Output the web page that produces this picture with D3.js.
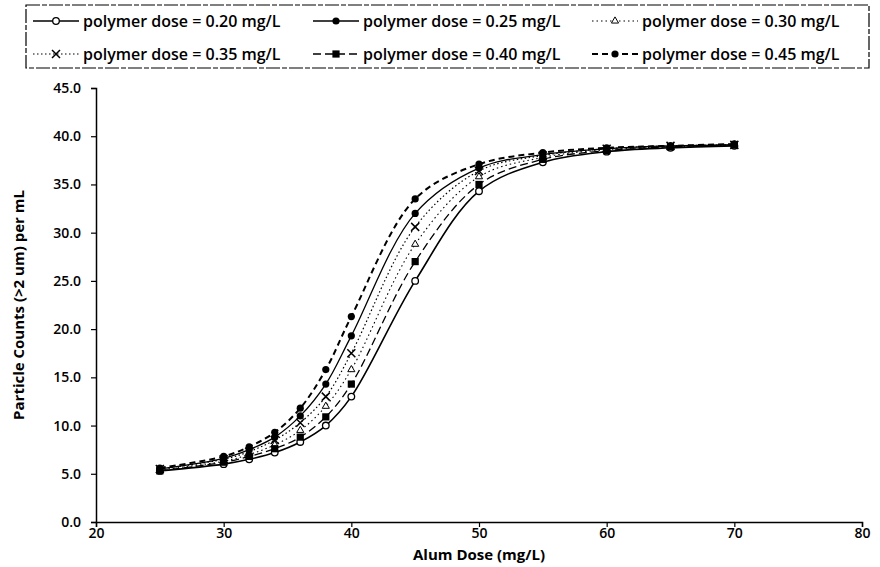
<!DOCTYPE html>
<html>
<head>
<meta charset="utf-8">
<script src="https://cdn.jsdelivr.net/npm/d3@7"></script>
<style>
  body { margin: 0; background: #fff; }
  text { font-family: "Open Sans", sans-serif; font-weight: 600; fill: #000; }
</style>
</head>
<body>
<script>
// alum dose (mg/L) where counts were measured
var alumDose = [25, 30, 32, 34, 36, 38, 40, 45, 50, 55, 60, 65, 70];

// particle counts (>2 um) per mL, one list per polymer dose
var dose020 = [5.3, 6.0, 6.5, 7.2, 8.3, 10.0, 13.0, 25.0, 34.3, 37.3, 38.4, 38.8, 39.0];
var dose025 = [5.5, 6.6, 7.5, 8.8, 11.0, 14.3, 19.3, 32.0, 36.7, 38.1, 38.7, 39.0, 39.1];
var dose030 = [5.4, 6.3, 7.0, 8.0, 9.5, 12.0, 15.8, 28.8, 35.8, 37.8, 38.6, 38.9, 39.1];
var dose035 = [5.5, 6.5, 7.3, 8.5, 10.3, 13.0, 17.5, 30.6, 36.4, 38.0, 38.7, 39.0, 39.1];
var dose040 = [5.3, 6.2, 6.8, 7.6, 8.8, 10.9, 14.3, 27.0, 35.0, 37.6, 38.5, 38.9, 39.1];
var dose045 = [5.6, 6.8, 7.8, 9.3, 11.8, 15.8, 21.3, 33.5, 37.1, 38.3, 38.8, 39.0, 39.2];

var seriesNames = ["polymer dose = 0.20 mg/L", "polymer dose = 0.25 mg/L", "polymer dose = 0.30 mg/L",
                   "polymer dose = 0.35 mg/L", "polymer dose = 0.40 mg/L", "polymer dose = 0.45 mg/L"];

var xTicks = [20, 30, 40, 50, 60, 70, 80];
var yTicks = [0, 5, 10, 15, 20, 25, 30, 35, 40, 45];

function ready(fn) {
  if (document.readyState != 'loading'){
    fn();
  } else {
    document.addEventListener('DOMContentLoaded', fn);
  }
}

ready(init);

function init(){

var w = 880, h = 567;
var left = 96, right = 862, top = 88, bottom = 522;

var svg = d3.select("body").append("svg")
            .attr("width", w)
            .attr("height", h);

var x = d3.scaleLinear().domain([20, 80]).range([left, right]);
var y = d3.scaleLinear().domain([0, 45]).range([bottom, top]);

// how each series looks: line dash, width, marker
var styles = [
  {values: dose020, dash: null,      width: 1.6, marker: "opencircle"},
  {values: dose025, dash: null,      width: 1.3, marker: "dot"},
  {values: dose030, dash: "1.5,3",   width: 1.1, marker: "triangle"},
  {values: dose035, dash: "1.5,2.5", width: 1.2, marker: "cross"},
  {values: dose040, dash: "8,4",     width: 1.3, marker: "square"},
  {values: dose045, dash: "6,4",     width: 2.0, marker: "dot"}
];

var series = styles.map((s, i) => ({
  name: seriesNames[i], style: s,
  points: alumDose.map((a, j) => ({x: a, y: s.values[j]}))
}));

// axes
var xAxis = d3.axisBottom(x).tickValues(xTicks).tickSize(5).tickFormat(d3.format("d"));
var yAxis = d3.axisLeft(y).tickValues(yTicks).tickSize(5).tickFormat(d3.format(".1f"));

var gx = svg.append("g").attr("transform", "translate(0," + bottom + ")").call(xAxis);
var gy = svg.append("g").attr("transform", "translate(" + left + ",0)").call(yAxis);

[gx, gy].forEach(g => {
  g.select(".domain").attr("stroke", "#000").attr("stroke-width", 1.5);
  g.selectAll(".tick line").attr("stroke", "#000").attr("stroke-width", 1.2);
  g.selectAll(".tick text").style("font-size", "14px").attr("fill", "#000");
});
gx.selectAll(".tick text").attr("y", 6);
gy.selectAll(".tick text").attr("dx", "-0.5em");

svg.append("text")
   .attr("x", (left + right) / 2)
   .attr("y", 560)
   .attr("text-anchor", "middle")
   .style("font-size", "15px")
   .style("font-weight", "700")
   .text("Alum Dose (mg/L)");

svg.append("text")
   .attr("transform", "translate(24," + ((top + bottom) / 2) + ") rotate(-90)")
   .attr("text-anchor", "middle")
   .style("font-size", "15px")
   .style("font-weight", "700")
   .text("Particle Counts (>2 um) per mL");

// lines
var line = d3.line()
             .x(d => x(d.x))
             .y(d => y(d.y))
             .curve(d3.curveCatmullRom.alpha(0.5));

var plot = svg.append("g").attr("class", "series");

plot.selectAll("path.line")
    .data(series)
    .enter()
    .append("path")
    .attr("class", "line")
    .attr("d", d => line(d.points))
    .attr("fill", "none")
    .attr("stroke", "#000")
    .attr("stroke-width", d => d.style.width)
    .attr("stroke-dasharray", d => d.style.dash);

function drawMarker(g, kind, cx, cy) {
  if (kind == "opencircle") {
    g.append("circle").attr("cx", cx).attr("cy", cy).attr("r", 3.3)
     .attr("fill", "#fff").attr("stroke", "#000").attr("stroke-width", 1.3);
  } else if (kind == "dot") {
    g.append("circle").attr("cx", cx).attr("cy", cy).attr("r", 3.6).attr("fill", "#000");
  } else if (kind == "square") {
    g.append("rect").attr("x", cx - 3.6).attr("y", cy - 3.6).attr("width", 7.2).attr("height", 7.2).attr("fill", "#000");
  } else if (kind == "triangle") {
    g.append("path").attr("d", d3.symbol(d3.symbolTriangle, 22)())
     .attr("transform", "translate(" + cx + "," + cy + ")")
     .attr("fill", "#fff").attr("stroke", "#000").attr("stroke-width", 1);
  } else if (kind == "cross") {
    g.append("path").attr("d", "M-4,-4L4,4M-4,4L4,-4")
     .attr("transform", "translate(" + cx + "," + cy + ")")
     .attr("stroke", "#000").attr("stroke-width", 1.5);
  }
}

series.forEach(s => {
  var g = plot.append("g");
  s.points.forEach(p => drawMarker(g, s.style.marker, x(p.x), y(p.y)));
});

// legend
var legend = svg.append("g").attr("class", "legend");
legend.append("rect")
      .attr("x", 26).attr("y", 5).attr("width", 843).attr("height", 63)
      .attr("fill", "#fff").attr("stroke", "#000").attr("stroke-width", 1.2)
      .attr("stroke-dasharray", "14,2,5,2");

var colX = [33, 313, 592];
var rowY = [21, 54];

series.forEach((s, i) => {
  var lx = colX[i % 3], ly = rowY[Math.floor(i / 3)];
  var g = legend.append("g");
  g.append("line").attr("x1", lx).attr("x2", lx + 46).attr("y1", ly).attr("y2", ly)
   .attr("stroke", "#000").attr("stroke-width", s.style.width)
   .attr("stroke-dasharray", s.style.dash);
  drawMarker(g, s.style.marker, lx + 23, ly);
  g.append("text").attr("x", lx + 50).attr("y", ly + 5.5)
   .style("font-size", "16px")
   .text(s.name);
});

}//init
</script>
</body>
</html>
